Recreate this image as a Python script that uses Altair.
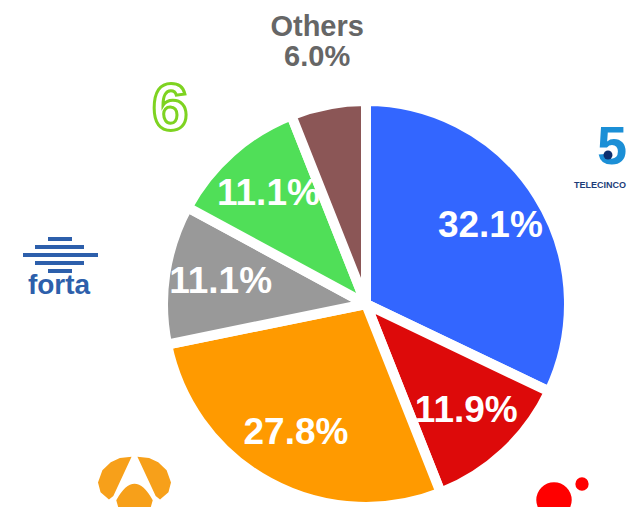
import altair as alt
import pandas as pd

# ---- data ----
names = ["Telecinco", "Cuatro", "Antena 3", "FORTA", "laSexta", "Others"]
shares = [32.1, 11.9, 27.8, 11.1, 11.1, 6.0]
labels = ["32.1%", "11.9%", "27.8%", "11.1%", "11.1%", "6.0%"]
colors = ["#3366FF", "#DD0A0A", "#FF9A00", "#999999", "#50DF58", "#8B5656"]

df = pd.DataFrame({"name": names, "share": shares, "label": labels,
                   "order": list(range(len(names)))})

# ---- layout ----
CX, CY = 358, 296
FONT = "Liberation Sans"
one = alt.Data(values=[{"k": 1}])

base = alt.Chart(df).encode(
    theta=alt.Theta("share:Q", stack=True),
    order=alt.Order("order:Q"),
    x=alt.value(CX), y=alt.value(CY),
)

arcs = base.mark_arc(outerRadius=203, stroke="white", strokeWidth=10).encode(
    color=alt.Color("name:N", scale=alt.Scale(domain=names, range=colors), legend=None)
)

pct = base.transform_calculate(
    t="datum.name == 'Others' ? '' : datum.label"
).mark_text(radius=147, fontSize=37, fontWeight="bold", font=FONT,
            color="white", align="center", baseline="middle").encode(text="t:N")

others = base.transform_calculate(
    t="datum.name == 'Others' ? 'Others\\n' + datum.label : ''"
).mark_text(radius=282, fontSize=29, fontWeight="bold", font=FONT, color="#666666",
            align="center", baseline="middle", lineBreak="\n", lineHeight=30,
            dx=4).encode(text="t:N")

# ---- logos (decorative) ----
# forta
forta_df = pd.DataFrame({"x1": [40, 27, 15, 27, 40], "x2": [64, 76, 90, 76, 64],
                         "y": [231, 239, 247, 255, 263]})
forta_bars = alt.Chart(forta_df).mark_rule(color="#2D5FAB", strokeWidth=4).encode(
    x=alt.X("x1:Q", scale=None, axis=None), x2="x2:Q",
    y=alt.Y("y:Q", scale=None, axis=None))
forta_txt = alt.Chart(one).mark_text(fontSize=28, fontWeight="bold", font=FONT,
                                     color="#2D5FAB", align="center",
                                     baseline="alphabetic").encode(
    x=alt.value(51), y=alt.value(286), text=alt.value("forta"))

# telecinco
t5 = alt.Chart(one).mark_text(fontSize=54, fontWeight="bold", font=FONT, color="#1B8FD6",
                              align="center", baseline="middle").encode(
    x=alt.value(604), y=alt.value(140), text=alt.value("5"))
t5dot = alt.Chart(one).mark_point(filled=True, opacity=1, size=80, color="#0D2F6E").encode(
    x=alt.value(600), y=alt.value(147))
t5txt = alt.Chart(one).mark_text(fontSize=9, fontWeight="bold", font=FONT, color="#1D3C78",
                                 align="left", baseline="middle").encode(
    x=alt.value(566), y=alt.value(177), text=alt.value("TELECINCO"))

# laSexta
six = alt.Chart(one).mark_text(fontSize=66, fontWeight="bold", font=FONT, fill="white",
                               stroke="#7ED321", strokeWidth=3, align="center",
                               baseline="middle").encode(
    x=alt.value(162), y=alt.value(102), text=alt.value("6"))

# Antena 3
a3path = ("M -0.08 -0.95 L -0.4 -0.92 L -0.65 -0.8 L -0.88 -0.58 L -1 -0.25 L -0.93 0.02 "
          "L -0.7 0.22 L -0.58 0.12 Z "
          "M 0.08 -0.95 L 0.4 -0.92 L 0.65 -0.8 L 0.88 -0.58 L 1 -0.25 L 0.93 0.02 "
          "L 0.7 0.22 L 0.58 0.12 Z "
          "M -0.5 0.24 Q 0 -0.66 0.5 0.24 L 0.42 0.52 Q 0 0.72 -0.42 0.52 Z")
a3 = alt.Chart(one).mark_point(filled=True, opacity=1, shape=a3path, size=5329,
                               color="#F7A01A").encode(
    x=alt.value(126.5), y=alt.value(483.5))

# Cuatro
c_big = alt.Chart(one).mark_point(filled=True, opacity=1, size=1257, color="#FF0000").encode(
    x=alt.value(546), y=alt.value(492))
c_small = alt.Chart(one).mark_point(filled=True, opacity=1, size=177, color="#FF0000").encode(
    x=alt.value(574), y=alt.value(476))

chart = alt.layer(
    arcs, pct, others, forta_bars, forta_txt, t5, t5dot, t5txt, six, a3, c_big, c_small
).properties(
    width=621, height=499, padding=0,
    autosize=alt.AutoSizeParams(type="none")
).configure_view(stroke=None)

chart.save("out.html", embed_options={"renderer": "svg", "actions": False})
